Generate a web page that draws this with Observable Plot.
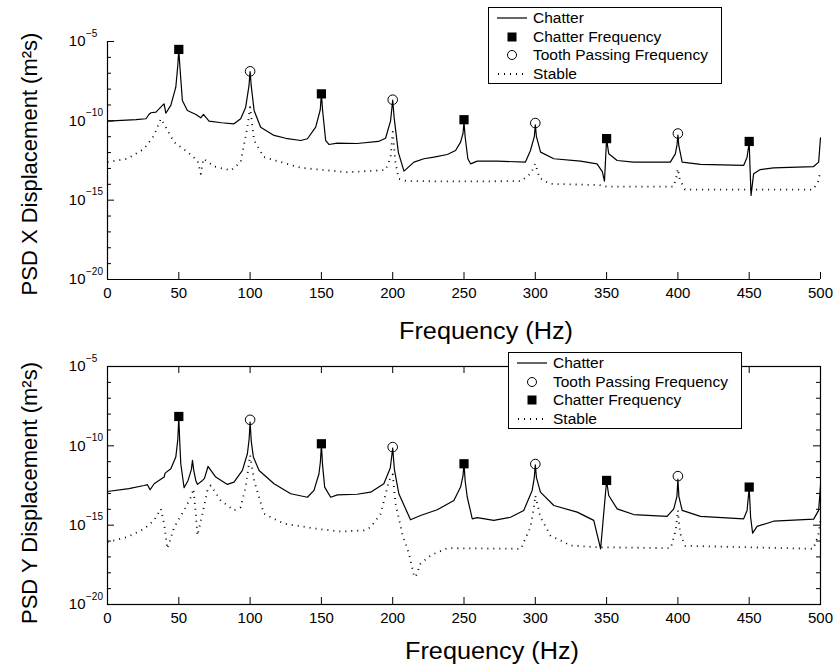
<!DOCTYPE html>
<html><head><meta charset="utf-8">
<script src="https://cdn.jsdelivr.net/npm/d3@7"></script>
<script src="https://cdn.jsdelivr.net/npm/@observablehq/plot@0.6"></script>
<style>
html,body{margin:0;padding:0;background:#fff;}
#root{position:relative;width:838px;height:672px;overflow:hidden;font-family:"Liberation Sans",Arial,Helvetica,sans-serif;}
.panel{position:absolute;left:0;}
.legend{position:absolute;background:#fff;border:1px solid #000;box-sizing:border-box;}
.row{position:absolute;left:0;height:18px;width:100%;}
.row svg{position:absolute;left:0;top:0;}
.row span{position:absolute;left:44px;top:0;font-size:15.5px;line-height:18px;color:#000;white-space:nowrap;}
</style></head><body><div id="root"></div><script>
// ---------- axis data ----------
const xTicks = [0, 50, 100, 150, 200, 250, 300, 350, 400, 450, 500];
const yMajorExp = [-5, -10, -15, -20];
const yMinorExp = [-6, -7, -8, -9, -11, -12, -13, -14, -16, -17, -18, -19];
const xTitle = "Frequency (Hz)";
const yTitleX = "PSD X Displacement (m²s)";
const yTitleY = "PSD Y Displacement (m²s)";

// ---------- top panel (X) : frequency (Hz) and log10(PSD) ----------
const chatterXFreq = [0,10,20,27,29,30.5,34,38.5,39.7,40.9,44.4,47.9,49.3,50,50.7,52.5,56,62,65.4,67.3,71.2,80,88.7,93.4,96.9,99.2,100,100.8,102.8,107.4,116.8,125,135.5,140.2,146,149.2,150,150.8,153,155.3,161.2,175,190,195,198.5,200,201,204,207.9,214.9,221.9,228.9,238.3,244.1,247.6,249.3,250,250.8,252.7,254.6,259.3,273.3,293.1,296.6,299.3,300,300.8,303.7,313,331.7,343.3,347,348.5,350,351.5,357.4,369,394.7,398.2,399.4,400,400.7,403,415.8,446.1,448.5,450,450.6,451.3,453.1,457.8,467.1,495.2,498.7,500];
const chatterXLog  = [-10.02,-9.97,-9.92,-9.87,-9.6,-9.49,-9.45,-9.03,-8.93,-9.52,-9.03,-7.88,-6.5,-5.5,-6.5,-8.72,-9.35,-9.6,-9.81,-9.6,-10.02,-10.12,-10.19,-9.87,-9.14,-7.8,-6.9,-7.8,-9.35,-10.4,-10.92,-11.1,-11.24,-11.13,-10.4,-9.3,-8.3,-9.3,-11.24,-11.49,-11.4,-11.43,-11.3,-11.1,-10.0,-8.7,-9.8,-12.0,-13.17,-12.6,-12.39,-12.29,-12.12,-11.87,-11.34,-10.8,-10.1,-11.0,-12.39,-12.71,-12.54,-12.54,-12.6,-11.87,-11.0,-10.25,-11.0,-11.97,-12.39,-12.54,-12.71,-13.2,-13.8,-11.15,-12.08,-12.5,-12.6,-12.6,-12.08,-11.5,-10.9,-11.6,-12.6,-12.75,-12.81,-12.29,-11.35,-13.0,-14.7,-13.34,-13.07,-12.96,-12.88,-12.6,-11.07];
const stableXFreq = [0,14,25.7,32.7,37.4,40.9,46.7,56.1,63.1,65.4,67.3,74.8,86.5,93.4,98.1,100,102.8,109.7,135.5,168.2,195,198.5,200,202,204.3,210,250,290,297,300,303,310,345,350,397,398.8,400,401.3,405,495,498.5,500];
const stableXLog  = [-12.6,-12.39,-11.76,-10.92,-9.87,-10.4,-11.34,-11.97,-12.5,-13.34,-12.39,-12.88,-13.13,-12.6,-10.4,-9.14,-11.24,-12.29,-12.96,-13.24,-13.1,-12.3,-10.7,-12.7,-13.65,-13.8,-13.82,-13.8,-13.3,-12.7,-13.6,-13.97,-14.05,-14.15,-14.15,-13.6,-13.02,-13.7,-14.33,-14.33,-13.8,-13.13];
const chatterFreqX = [50, 150, 250, 350, 450];
const chatterFreqXLog = [-5.5, -8.3, -9.93, -11.12, -11.3];
const toothFreqX = [100, 200, 300, 400];
const toothFreqXLog = [-6.88, -8.67, -10.14, -10.8];

// ---------- bottom panel (Y) ----------
const chatterYFreq = [0,15,25.7,28,29.9,32.7,39.7,40.4,44.4,47.9,49.3,50,50.7,51.4,53.7,56.5,58.8,59.6,60.4,61.9,63.1,66.6,68,70.5,72.5,75.9,84.1,88.7,94.6,98.1,99.3,100,100.8,102.3,106.3,116.8,128.5,140.2,144.8,148.3,149.3,150,150.8,152.3,156.5,161.2,175,184.5,193.8,198.3,200,201.2,204.3,212.5,219.5,231.2,242.9,247.6,249.3,250,250.8,252.3,255.8,259.3,270.9,282.6,291.9,297.8,299.3,300,300.8,303.6,313,329.4,341,345.2,345.8,350,351.5,357.4,369,392.4,397.1,399.3,400,400.7,403,415.8,446.1,448.5,450,451,452.4,455.5,467.1,495.2,498.7,500];
const chatterYLog  = [-12.88,-12.7,-12.5,-12.45,-12.77,-12.39,-11.97,-11.72,-11.45,-10.71,-9.6,-8.2,-9.8,-11.13,-12.64,-12.18,-11.5,-10.92,-11.5,-12.18,-12.43,-12.18,-12.05,-11.3,-11.55,-11.97,-12.43,-12.29,-11.55,-10.5,-9.6,-8.5,-9.7,-10.71,-11.55,-12.39,-13.02,-13.24,-12.81,-11.76,-11.0,-9.9,-11.2,-12.6,-13.24,-13.09,-13.05,-12.92,-12.39,-11.4,-10.15,-11.5,-13.02,-14.66,-14.39,-14.03,-13.44,-12.6,-11.9,-11.1,-12.2,-13.24,-14.6,-14.53,-14.7,-14.5,-14.07,-12.81,-12.0,-11.2,-12.0,-12.92,-13.76,-14.18,-14.7,-16.28,-16.49,-12.2,-13.13,-13.97,-14.33,-14.45,-13.97,-13.2,-12.1,-13.2,-14.07,-14.45,-14.6,-14.07,-12.65,-14.5,-15.5,-15.08,-14.75,-14.62,-14.07,-12.5];
const stableYFreq = [0,14,25.7,32.7,37.4,39.7,42,46.7,53.7,58.4,60.3,61.9,63.1,66.6,70.1,72.4,79.4,88.7,93.4,96.9,100,102.8,109.7,123.8,147.2,163.5,180,184.5,191.5,197.4,200,202,206.7,211.4,214.9,216,219.5,226.6,238.3,290,291.9,296.6,299,300,303.6,310.6,324.7,343.4,395,398.5,400,401.5,405,495,498.5,500];
const stableYLog  = [-16.07,-15.75,-15.23,-14.7,-13.97,-14.91,-16.49,-15.13,-14.07,-13.24,-12.71,-14.28,-15.65,-14.28,-12.81,-12.5,-13.44,-14.07,-13.87,-12.6,-10.6,-12.18,-14.28,-14.91,-15.23,-15.4,-15.33,-15.13,-14.3,-12.2,-11.8,-13.65,-15.54,-16.8,-18.17,-18.28,-17.43,-16.9,-16.45,-16.49,-16.07,-15.13,-13.87,-13.13,-14.5,-15.65,-16.28,-16.39,-16.45,-15.3,-14.07,-15.5,-16.3,-16.49,-15.6,-14.7];
const chatterFreqY = [50, 150, 250, 350, 450];
const chatterFreqYLog = [-8.15, -9.87, -11.13, -12.18, -12.6];
const toothFreqY = [100, 200, 300, 400];
const toothFreqYLog = [-8.36, -10.08, -11.15, -11.91];

// ---------- legends ----------
const legendTop = [["line","Chatter"],["square","Chatter Frequency"],["circle","Tooth Passing Frequency"],["dotted","Stable"]];
const legendBottom = [["line","Chatter"],["circle","Tooth Passing Frequency"],["square","Chatter Frequency"],["dotted","Stable"]];

// ---------- helpers ----------
const toRows = (xs, ls) => xs.map((x, i) => ({x, y: Math.pow(10, ls[i])}));
const W = 838, ML = 107, MR = 18, PH = 238;
const PW = W - ML - MR;
const FONT = "'Liberation Sans', Arial, Helvetica, sans-serif";

function panel({chatter, stable, squares, circles, yTitle, full, height, mt, mb, xtDx, xtDy, ytDy}) {
  const yMajor = yMajorExp.map(e => Math.pow(10, e));
  const yMinor = yMinorExp.map(e => Math.pow(10, e));
  const marks = [];
  if (full) marks.push(Plot.frame({stroke: "black", strokeWidth: 1.2}));
  else marks.push(Plot.ruleX([0], {stroke: "black", strokeWidth: 1.2}), Plot.ruleY([1e-20], {stroke: "black", strokeWidth: 1.2}));
  marks.push(Plot.ruleX(xTicks, {x: d => d, insetTop: PH - 7, stroke: "black"}));
  marks.push(Plot.ruleY(yMajor, {y: d => d, insetRight: PW - 7, stroke: "black"}));
  marks.push(Plot.ruleY(yMinor, {y: d => d, insetRight: PW - 4, stroke: "black"}));
  if (full) {
    marks.push(Plot.ruleX(xTicks, {x: d => d, insetBottom: PH - 7, stroke: "black"}));
    marks.push(Plot.ruleY(yMajor, {y: d => d, insetLeft: PW - 7, stroke: "black"}));
    marks.push(Plot.ruleY(yMinor, {y: d => d, insetLeft: PW - 4, stroke: "black"}));
  }
  marks.push(Plot.line(stable, {x: "x", y: "y", stroke: "black", strokeWidth: 1.8, strokeDasharray: "1,5", strokeLinecap: "butt"}));
  marks.push(Plot.line(chatter, {x: "x", y: "y", stroke: "black", strokeWidth: 1.2}));
  marks.push(Plot.dot(squares, {x: "x", y: "y", symbol: "square", r: 5.2, fill: "black", stroke: "none"}));
  marks.push(Plot.dot(circles, {x: "x", y: "y", symbol: "circle", r: 4.8, fill: "none", stroke: "black", strokeWidth: 1}));
  // tick labels
  marks.push(Plot.text(xTicks, {x: d => d, frameAnchor: "bottom", lineAnchor: "middle", dy: 14, fontSize: 15, fill: "black"}));
  marks.push(Plot.text(yMajor, {y: d => d, text: () => "10", frameAnchor: "left", textAnchor: "end", lineAnchor: "middle", dx: -22, fontSize: 15, fill: "black"}));
  marks.push(Plot.text(yMajorExp, {y: e => Math.pow(10, e), text: e => "\u2212" + Math.abs(e), frameAnchor: "left", textAnchor: "start", lineAnchor: "middle", dx: -21.5, dy: -8, fontSize: 10, fill: "black"}));
  // titles
  marks.push(Plot.text([xTitle], {text: d => d, frameAnchor: "bottom", textAnchor: "middle", lineAnchor: "middle", dx: xtDx, dy: xtDy, fontSize: 23, fill: "black"}));
  marks.push(Plot.text([yTitle], {text: d => d, frameAnchor: "left", textAnchor: "middle", lineAnchor: "middle", rotate: -90, dx: -78, dy: ytDy, fontSize: 22, fill: "black"}));
  const svg = Plot.plot({
    width: W, height, marginLeft: ML, marginRight: MR, marginTop: mt, marginBottom: mb,
    style: {fontFamily: FONT, background: "transparent", overflow: "visible"},
    x: {domain: [0, 500], axis: null},
    y: {type: "log", domain: [1e-20, 1e-5], axis: null},
    marks
  });
  svg.querySelectorAll("text").forEach(t => {
    if (t.textContent === xTitle) { t.setAttribute("textLength", 174); t.setAttribute("lengthAdjust", "spacingAndGlyphs"); }
  });
  return svg;
}

function legend(entries, left, top) {
  const box = document.createElement("div");
  box.className = "legend";
  Object.assign(box.style, {left: left + "px", top: top + "px", width: "234px", height: "77px"});
  entries.forEach(([kind, label], i) => {
    const row = document.createElement("div");
    row.className = "row";
    row.style.top = (1 + i * 18.6) + "px";
    let sym = "";
    if (kind === "line") sym = '<line x1="8" x2="38" y1="9" y2="9" stroke="black" stroke-width="1.2"/>';
    if (kind === "dotted") sym = '<line x1="9" x2="38" y1="9" y2="9" stroke="black" stroke-width="1.8" stroke-dasharray="1,5"/>';
    if (kind === "square") sym = '<rect x="18.5" y="4.5" width="9" height="9" fill="black"/>';
    if (kind === "circle") sym = '<circle cx="23" cy="9" r="4.5" fill="none" stroke="black" stroke-width="1"/>';
    row.innerHTML = '<svg width="44" height="18">' + sym + '</svg><span>' + label + '</span>';
    box.appendChild(row);
  });
  return box;
}

const root = document.getElementById("root");
const top1 = document.createElement("div"); top1.className = "panel"; top1.style.top = "0px";
top1.appendChild(panel({
  chatter: toRows(chatterXFreq, chatterXLog), stable: toRows(stableXFreq, stableXLog),
  squares: toRows(chatterFreqX, chatterFreqXLog), circles: toRows(toothFreqX, toothFreqXLog),
  yTitle: yTitleX, full: false, height: 345, mt: 41, mb: 66, xtDx: 22, xtDy: 52, ytDy: 3.5
}));
root.appendChild(top1);
const bot = document.createElement("div"); bot.className = "panel"; bot.style.top = "345px";
bot.appendChild(panel({
  chatter: toRows(chatterYFreq, chatterYLog), stable: toRows(stableYFreq, stableYLog),
  squares: toRows(chatterFreqY, chatterFreqYLog), circles: toRows(toothFreqY, toothFreqYLog),
  yTitle: yTitleY, full: true, height: 327, mt: 21, mb: 68, xtDx: 28, xtDy: 47, ytDy: 7.5
}));
root.appendChild(bot);
root.appendChild(legend(legendTop, 488, 7));
root.appendChild(legend(legendBottom, 508, 352));
</script></body></html>
